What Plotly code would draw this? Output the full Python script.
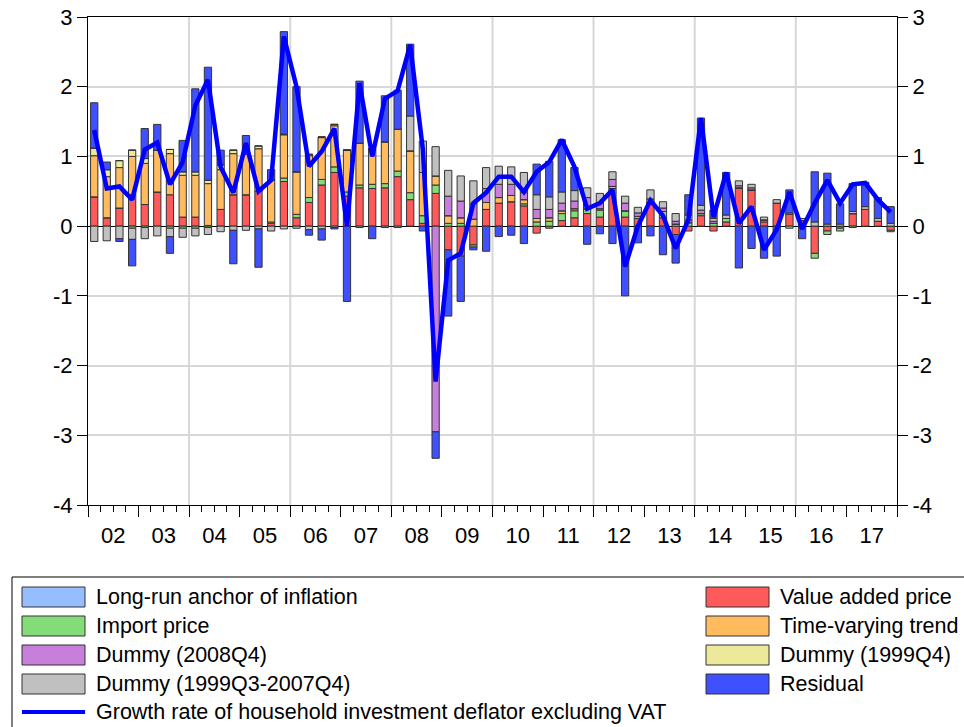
import pandas as pd
import plotly.graph_objects as go

# quarterly contributions, 2002Q1 .. 2017Q4
quarters = pd.period_range("2002Q1", "2017Q4", freq="Q").to_timestamp()

value_added = [0.42, 0.12, 0.26, 0.45, 0.31, 0.49, 0.45, 0.13,
               0.13, 0.01, 0.24, 0.45, 0.45, 0.50, 0.04, 0.64,
               0.12, 0.34, 0.59, 0.77, 0.43, 0.55, 0.54, 0.55,
               0.71, 0.38, 0.04, 0.47, -0.34, -0.43, -0.27, 0.24,
               0.33, 0.35, 0.29, -0.10, -0.03, 0.08, 0.12, 0.18,
               0.13, 0.54, 0.13, 0.11, 0.34, 0.12, -0.12, -0.07,
               0.15, -0.07, 0.06, 0.55, 0.52, 0.06, 0.33, 0.17,
               0.08, -0.39, -0.07, -0.03, 0.18, 0.24, 0.07, -0.06]
import_price = [0, 0, 0, -0.03, -0.02, 0, -0.03, -0.03,
                -0.03, -0.02, 0, 0, 0, 0, 0.02, 0.05,
                0.05, 0.07, 0.08, 0.08, 0.06, 0.04, 0.06, 0.06,
                0.08, 0.10, 0.11, 0.12, 0.04, 0.04, -0.03, 0,
                0, 0, 0.03, 0.06, 0.07, 0.10, 0.10, 0.07,
                0.10, 0.03, 0.09, 0.03, 0, 0.09, 0.03, 0.05,
                0.03, 0.04, 0.05, 0, 0, 0.03, 0, -0.03,
                0, -0.07, -0.05, -0.04, -0.02, 0, 0, -0.02]
trend = [0.59, 0.59, 0.58, 0.55, 0.59, 0.60, 0.59, 0.60,
         0.60, 0.60, 0.57, 0.59, 0.58, 0.61, 0.60, 0.62,
         0.61, 0.60, 0.60, 0.59, 0.60, 0.60, 0.51, 0.60,
         0.60, 0.60, 0.62, 0.13, 0.11, 0.08, 0.10, 0.10,
         0.08, 0.09, 0.06, 0.05, 0.05, 0.04, 0.03, 0,
         0.02, 0, 0, 0, 0, 0, 0, 0,
         0, 0, 0, 0, 0, 0, 0, 0,
         0, 0, 0, 0, 0, 0, 0, 0]
dummy_99q4 = [0.11, 0.10, 0.10, 0.09, 0.07, 0, 0.06, 0.05,
              0.05, 0.05, 0.07, 0.05, 0, 0.04, 0, 0.01,
              0, 0.02, 0.01, 0.02, 0, 0, 0, 0,
              0, 0, 0, 0, 0, 0, 0, 0,
              0, 0, 0, 0, 0, 0, 0, 0,
              0, 0, 0, 0, 0, 0, 0, 0,
              0, 0, 0, 0, 0, 0, 0, 0,
              0, 0, 0, 0, 0, 0, 0, 0]
dummy_08q4 = [0, 0, 0, 0, 0, 0, 0, 0,
              0, 0, 0, 0, 0, 0, 0, 0,
              0, 0, 0, 0, 0, 0, 0, 0,
              0, 0, 0, -2.95, 0.28, 0.24, 0.22, 0.20,
              0.19, 0.16, 0.10, 0.13, 0.12, 0.11, 0.11, 0.16,
              0.08, 0.10, 0.11, 0.05, 0.05, 0.05, 0.04, 0.04,
              0.05, 0.03, 0, 0.03, 0.03, 0, 0, 0,
              0, 0, 0, 0, 0, 0, 0, 0]
dummy_99q3_07q4 = [-0.22, -0.21, -0.18, -0.16, -0.16, -0.14, -0.12, -0.13,
                   -0.11, -0.10, -0.08, -0.06, -0.06, -0.04, -0.07, -0.04,
                   -0.03, -0.05, -0.04, -0.02, 0, -0.02, 0, -0.02,
                   -0.02, 0.50, 0.45, 0.42, 0.37, 0.36, 0.33, 0.30,
                   0.26, 0.25, 0.29, 0.21, 0.18, 0.16, 0.15, 0.14,
                   0.14, 0.11, 0.10, 0.08, 0.13, 0.09, 0.11, 0.07,
                   0.07, 0.04, 0.05, 0.07, 0.05, 0.04, 0.05, 0.02,
                   0.03, 0.06, 0.03, 0.03, 0.03, 0.04, 0.04, 0.04]
residual = [0.65, 0.11, -0.04, -0.38, 0.43, 0.37, -0.24, 0.45,
            1.19, 1.62, 0.21, -0.48, 0.27, -0.55, 0.15, 1.47,
            1.22, -0.08, -0.16, -0.02, -1.08, 0.89, -0.18, 0.66,
            0.56, 1.03, -0.07, -0.38, -0.95, -0.65, -0.04, -0.36,
            -0.15, -0.13, -0.25, 0.44, 0.51, 0.75, 0.33, -0.26,
            -0.11, -0.25, -1.00, -0.24, -0.14, -0.41, -0.41, 0.29,
            1.25, 0.12, 0.61, -0.60, -0.32, -0.46, -0.43, 0.33,
            -0.18, 0.72, 0.73, 0.29, 0.40, 0.35, 0.30, 0.24]
deflator = [1.38, 0.54, 0.57, 0.38, 1.10, 1.20, 0.60, 0.92,
            1.73, 2.10, 0.85, 0.48, 1.19, 0.50, 0.66, 2.72,
            2.00, 0.86, 1.07, 1.40, 0.00, 2.05, 1.00, 1.83,
            1.94, 2.60, 1.10, -2.23, -0.49, -0.39, 0.33, 0.48,
            0.71, 0.71, 0.49, 0.78, 0.92, 1.24, 0.85, 0.25,
            0.33, 0.52, -0.58, 0.00, 0.37, 0.15, -0.32, 0.09,
            1.55, 0.13, 0.77, 0.04, 0.28, -0.34, -0.05, 0.49,
            -0.04, 0.33, 0.66, 0.33, 0.60, 0.62, 0.38, 0.20]

y_ticks = [-4, -3, -2, -1, 0, 1, 2, 3]
y_ticktext = ["-4", "-3", "-2", "-1", "0", "1", "2", "3"]

# stacking order (bottom -> top)
bars = [
    ("Value added price", value_added, "#ff5a5a"),
    ("Import price", import_price, "#84dc78"),
    ("Time-varying trend", trend, "#ffbb5e"),
    ("Dummy (1999Q4)", dummy_99q4, "#ece99b"),
    ("Dummy (2008Q4)", dummy_08q4, "#c77fdb"),
    ("Dummy (1999Q3-2007Q4)", dummy_99q3_07q4, "#c0c0c0"),
    ("Residual", residual, "#3f50ff"),
]
line_name = "Growth rate of household investment deflator excluding VAT"

fig = go.Figure()

for name, vals, color in bars:
    fig.add_trace(go.Bar(
        x=quarters, y=vals, name=name,
        xperiod="M3", xperiodalignment="middle",
        marker=dict(color=color, line=dict(color="#333333", width=1)),
        showlegend=False,
    ))

fig.add_trace(go.Scatter(
    x=quarters, y=deflator, name=line_name, mode="lines",
    xperiod="M3", xperiodalignment="middle",
    line=dict(color="#0000ff", width=4.5),
    yaxis="y2", showlegend=False,
))

# figure geometry (pixels)
W, H = 964, 727
L, R, T, B = 88, 67, 17, 222
pw, ph = W - L - R, H - T - B


def px(x):
    return (x - L) / pw


def py(y):
    return (H - B - y) / ph


# vertical grid every two years
shapes = []
for yr in range(2004, 2018, 2):
    shapes.append(dict(type="line", xref="x", yref="paper",
                       x0=f"{yr}-01-01", x1=f"{yr}-01-01", y0=0, y1=1,
                       line=dict(color="#d7d7d7", width=2), layer="below"))

# legend box
shapes.append(dict(type="rect", xref="paper", yref="paper",
                   x0=px(12), x1=px(990), y0=py(577), y1=py(760),
                   line=dict(color="black", width=1), fillcolor="white"))

legend_items = [
    # name, color, kind, column x, row y
    ("Long-run anchor of inflation", "#96beff", "bar", 22, 597),
    ("Import price", "#84dc78", "bar", 22, 626),
    ("Dummy (2008Q4)", "#c77fdb", "bar", 22, 655),
    ("Dummy (1999Q3-2007Q4)", "#c0c0c0", "bar", 22, 684),
    (line_name, "#0000ff", "line", 22, 712),
    ("Value added price", "#ff5a5a", "bar", 706, 597),
    ("Time-varying trend", "#ffbb5e", "bar", 706, 626),
    ("Dummy (1999Q4)", "#ece99b", "bar", 706, 655),
    ("Residual", "#3f50ff", "bar", 706, 684),
]
annotations = []
for name, color, kind, lx, ly in legend_items:
    if kind == "bar":
        shapes.append(dict(type="rect", xref="paper", yref="paper",
                           x0=px(lx), x1=px(lx + 63), y0=py(ly - 10), y1=py(ly + 10),
                           fillcolor=color, line=dict(color="#333333", width=1)))
    else:
        shapes.append(dict(type="line", xref="paper", yref="paper",
                           x0=px(lx), x1=px(lx + 63), y0=py(ly), y1=py(ly),
                           line=dict(color=color, width=4)))
    annotations.append(dict(text=name, xref="paper", yref="paper",
                            x=px(lx + 72), y=py(ly), xanchor="left", yanchor="middle",
                            showarrow=False, font=dict(size=21.5, color="black")))

yaxis_common = dict(
    range=[-4, 3], tickvals=y_ticks, ticktext=y_ticktext,
    ticks="outside", ticklen=10, tickcolor="black",
    showline=True, linecolor="black", linewidth=1, automargin=False,
    tickfont=dict(size=22, color="black"),
)

fig.update_layout(
    width=W, height=H,
    margin=dict(l=L, r=R, t=T, b=B),
    plot_bgcolor="white", paper_bgcolor="white",
    font=dict(family="Liberation Sans, Arial, sans-serif", color="black"),
    barmode="relative", bargap=0.42,
    xaxis=dict(
        type="date", range=["2002-01-01", "2018-01-01"],
        dtick="M12", tick0="2002-01-01", tickformat="%y", ticklabelmode="period",
        ticks="outside", ticklen=11, tickcolor="black", automargin=False,
        showline=True, linecolor="black", mirror=True, showgrid=False,
        tickfont=dict(size=22, color="black"),
        minor=dict(dtick="M3", ticks="outside", ticklen=6, tickcolor="black", showgrid=False),
    ),
    yaxis=dict(**yaxis_common, showgrid=True, gridcolor="#d7d7d7", gridwidth=2,
               zeroline=True, zerolinecolor="black", zerolinewidth=1),
    yaxis2=dict(**yaxis_common, overlaying="y", side="right",
                showgrid=False, zeroline=False),
    shapes=shapes,
    annotations=annotations,
    showlegend=False,
)

fig.write_html("out.html", config={"displayModeBar": False},
               post_script="document.body.style.margin = '0';")
